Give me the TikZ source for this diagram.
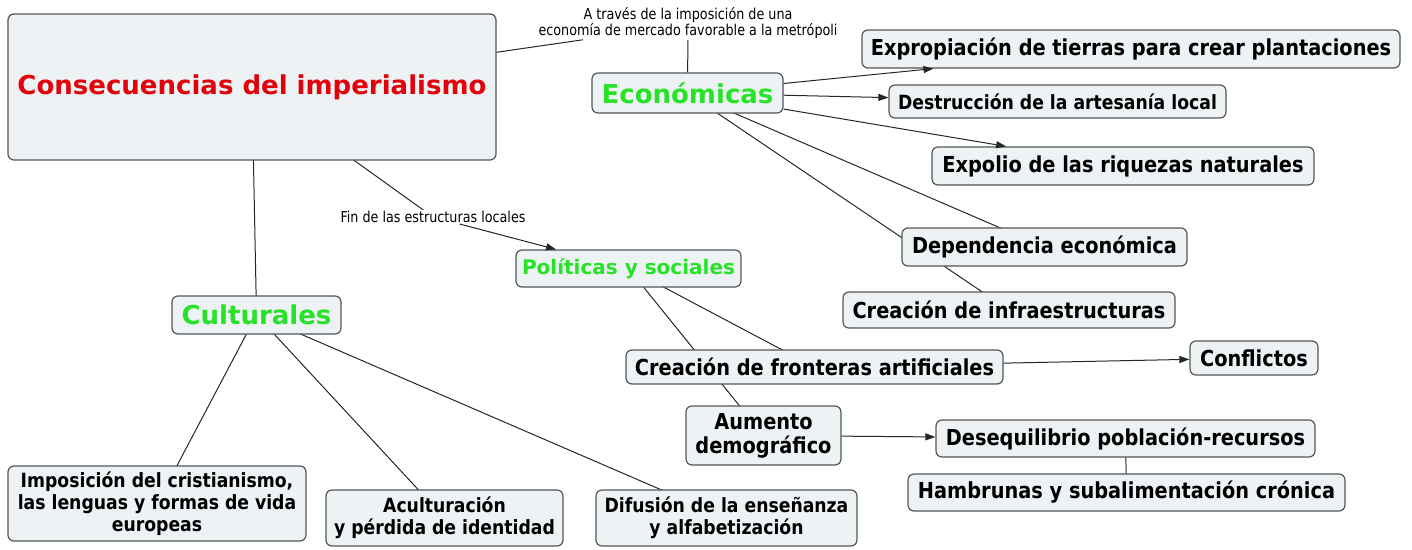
\documentclass[tikz,border=0pt]{standalone}
\usepackage{fontspec}
\setmainfont{DejaVu Sans}
\newfontfamily\narrowfont{DejaVu Sans}[FakeStretch=0.88]
\newfontfamily\linkfont{DejaVu Sans}[FakeStretch=0.85]
\usetikzlibrary{arrows.meta,backgrounds}
\definecolor{boxfill}{RGB}{237,242,244}
\definecolor{boxline}{RGB}{85,85,85}
\definecolor{headred}{RGB}{226,0,10}
\definecolor{headgreen}{RGB}{40,226,40}
\begin{document}
\begin{tikzpicture}[x=1pt,y=-1pt,
		concept/.style={draw=boxline,fill=boxfill,rounded corners=6pt,line width=1.2pt,inner sep=0pt,align=center,
			font=\narrowfont\bfseries\fontsize{22}{23}\selectfont},
		small/.style={font=\narrowfont\bfseries\fontsize{19.6}{22}\selectfont},
		head/.style={concept,text=headgreen,font=\bfseries\fontsize{26}{28}\selectfont},
		linkw/.style={fill=white,inner sep=1pt,align=center,font=\linkfont\fontsize{15}{16}\selectfont},
		conn/.style={draw=black!85,line width=1pt},
		arr/.style={conn,-{Triangle[length=10pt,width=7pt]}}]
			\useasboundingbox (0,0) rectangle (1412,549);
			% Main concept
			\node[head,text=headred,minimum width=488pt,minimum height=146pt] (main) at (252,87) {Consecuencias del imperialismo};
			% Economic branch
			\node[linkw] (econlbl) at (688,23) {A través de la imposición de una\\economía de mercado favorable a la metrópoli};
			\node[head,minimum width=191pt,minimum height=40pt] (econ) at (687.5,93) {Económicas};
			\node[concept,minimum width=538pt,minimum height=38pt] (expro) at (1131,49) {Expropiación de tierras para crear plantaciones};
			\node[concept,small,minimum width=337pt,minimum height=33pt] (destr) at (1057.5,101.5) {Destrucción de la artesanía local};
			\node[concept,minimum width=382pt,minimum height=38pt] (expol) at (1123,166) {Expolio de las riquezas naturales};
			\node[concept,minimum width=285pt,minimum height=38pt] (depen) at (1044.5,247) {Dependencia económica};
			\node[concept,minimum width=332pt,minimum height=36pt] (infra) at (1009,310) {Creación de infraestructuras};
			% Political and social branch
			\node[linkw] (finlbl) at (433,217) {Fin de las estructuras locales};
			\node[head,font=\bfseries\fontsize{20}{22}\selectfont,minimum width=225pt,minimum height=37pt] (polit) at (628.5,268.5) {Políticas y sociales};
			\node[concept,minimum width=377pt,minimum height=34pt] (front) at (814.5,367) {Creación de fronteras artificiales};
			\node[concept,minimum width=128pt,minimum height=34pt] (confl) at (1254,358) {Conflictos};
			\node[concept,font=\narrowfont\bfseries\fontsize{22}{24}\selectfont,minimum width=155pt,minimum height=59pt] (aument) at (763.5,435.5) {Aumento\\demográfico};
			\node[concept,minimum width=379pt,minimum height=37pt] (deseq) at (1125.5,438.5) {Desequilibrio población-recursos};
			\node[concept,minimum width=437pt,minimum height=37pt] (hambr) at (1126.5,492.5) {Hambrunas y subalimentación crónica};
			% Cultural branch
			\node[head,minimum width=169pt,minimum height=38pt] (cult) at (256.5,315) {Culturales};
			\node[concept,small,minimum width=298pt,minimum height=75pt] (impos) at (157,503.5) {Imposición del cristianismo,\\las lenguas y formas de vida\\europeas};
			\node[concept,small,minimum width=237pt,minimum height=56pt] (acult) at (444.5,518) {Aculturación\\y pérdida de identidad};
			\node[concept,small,minimum width=261pt,minimum height=56pt] (difus) at (726.5,518) {Difusión de la enseñanza\\y alfabetización};
			% Connectors
			\draw[conn] (main) -- ([xshift=-105pt]econlbl.south);
			\draw[conn] (econlbl) -- (econ);
			\begin{pgfonlayer}{background}
				\draw[conn] (main.center) -- (finlbl.center);
				\draw[conn] (main.center) -- (cult.center);
				\draw[conn] (econ.center) -- (depen.center);
				\draw[conn] (econ.center) -- (infra.center);
				\draw[conn] (polit.center) -- (front.center);
				\draw[conn] (polit.center) -- (aument.center);
				\draw[conn] (deseq.center) -- (hambr.center);
				\foreach \target in {impos,acult,difus}{
					\draw[conn] (cult.center) -- (\target.center);
				}
			\end{pgfonlayer}
			\foreach \target in {expro,destr,expol}{
				\draw[arr] (econ) -- (\target);
			}
			\draw[arr] (finlbl) -- (polit);
			\draw[arr] (front) -- (confl);
			\draw[arr] (aument) -- (deseq);
		\end{tikzpicture}
\end{document}
